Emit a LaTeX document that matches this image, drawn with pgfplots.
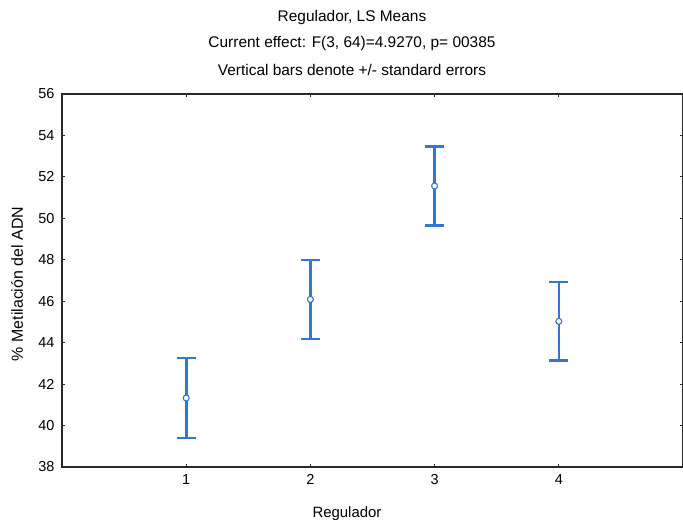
\documentclass[border=0pt]{standalone}
\usepackage{pgfplots}
\pgfplotsset{compat=1.18}
\usepackage{fontspec}
\setmainfont{Liberation Sans}
\definecolor{barblue}{RGB}{48,120,212}
\definecolor{axgray}{RGB}{40,40,40}
\pgfplotstableread{
x y e
1 41.33 1.92
2 46.09 1.90
3 51.56 1.90
4 45.03 1.90
}\means
\begin{document}
\begin{tikzpicture}[x=1bp,y=1bp]
\begin{axis}[
  at={(0,0)}, anchor=south west,
  scale only axis, width=621bp, height=373bp,
  xmin=0, xmax=5, ymin=38, ymax=56,
  xtick={1,2,3,4}, ytick={38,40,...,56},
  tick align=inside, major tick length=3bp,
  axis line style={axgray, line width=1.3bp},
  tick style={axgray, line width=0.8bp},
  tick label style={font=\fontsize{14.5}{16}\selectfont, text=black},
  /pgf/number format/assume math mode=true,
  yticklabel style={xshift=-4bp},
  xticklabel style={yshift=-4bp},
  clip=false,
]
\addplot[only marks, color=barblue, mark=none,
  error bars/.cd, y dir=both, y explicit,
  error bar style={line width=2.6bp, color=barblue},
  error mark options={rotate=90, mark size=9.5bp, line width=2.4bp, color=barblue}]
  table[x=x, y=y, y error=e] {\means};
\addplot[only marks, color=barblue, mark=*, mark size=3bp,
  mark options={fill=white, draw=barblue, line width=1.1bp}]
  table[x=x, y=y] {\means};
\end{axis}
\node[font=\fontsize{15.5}{17}\selectfont] at (290,449) {Regulador, LS Means};
\node[font=\fontsize{15.5}{17}\selectfont] at (290,423) {Current effect: F(3, 64)=4.9270, p= 00385};
\node[font=\fontsize{15.5}{17}\selectfont] at (290,397) {Vertical bars denote +/- standard errors};
\node[font=\fontsize{15}{17}\selectfont] at (285,-47) {Regulador};
\node[font=\fontsize{16}{18}\selectfont, rotate=90] at (-45,183) {\% Metilación del ADN};
\pgfresetboundingbox
\path (-62,-55) rectangle (621,467);
\end{tikzpicture}
\end{document}
